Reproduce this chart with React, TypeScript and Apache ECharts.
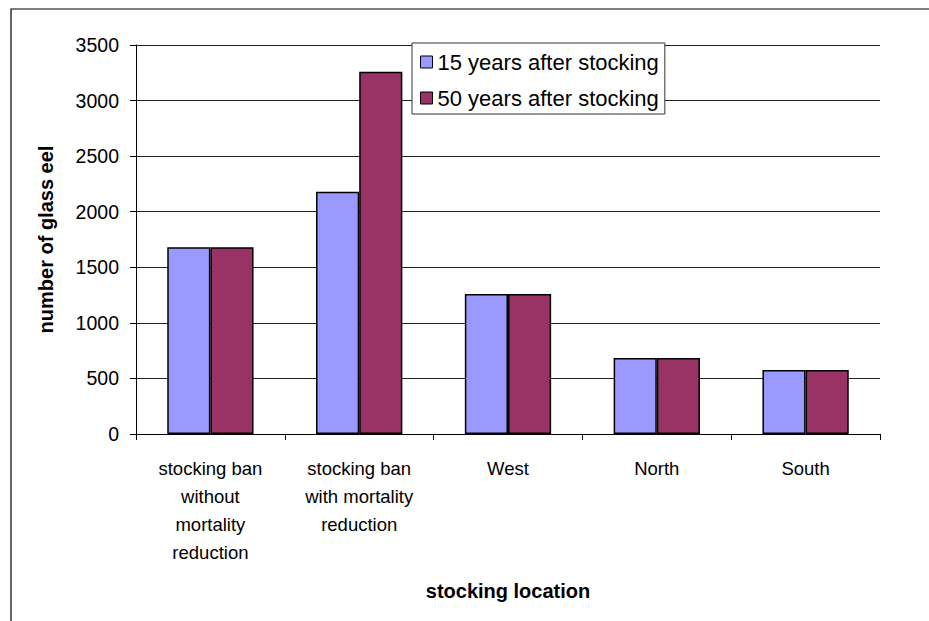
import React, { useEffect, useRef } from "react";
import * as echarts from "echarts";

const categories = [
  "stocking ban\nwithout\nmortality\nreduction",
  "stocking ban\nwith mortality\nreduction",
  "West",
  "North",
  "South",
];
const seriesNames = ["15 years after stocking", "50 years after stocking"];
const years15 = [1680, 2180, 1260, 684, 576];
const years50 = [1680, 3260, 1260, 684, 576];
const yTicks = { min: 0, max: 3500, interval: 500 };

const FONT = "'Liberation Sans', Arial, Helvetica, sans-serif";

export default function App() {
  const ref = useRef<HTMLDivElement>(null);
  useEffect(() => {
    if (!ref.current) return;
    const chart = echarts.init(ref.current, undefined, { renderer: "svg" });
    chart.setOption({
      animation: false,
      backgroundColor: "#ffffff",
      graphic: [
        {
          type: "rect",
          shape: { x: 11, y: 9, width: 1000, height: 700 },
          style: { fill: "none", stroke: "#000", lineWidth: 1.2 },
          silent: true,
          z: -1,
        },
      ],
      grid: { left: 136, right: 49, top: 45, bottom: 187, containLabel: false },
      legend: {
        orient: "vertical",
        left: 412,
        top: 43,
        icon: "rect",
        itemWidth: 12,
        itemHeight: 12,
        itemGap: 12,
        padding: [7, 6, 4, 8],
        backgroundColor: "#ffffff",
        borderColor: "#333",
        borderWidth: 1,
        itemStyle: { borderColor: "#000", borderWidth: 1 },
        textStyle: { fontFamily: FONT, fontSize: 22, color: "#000", lineHeight: 24 },
        data: seriesNames,
      },
      xAxis: {
        type: "category",
        data: categories,
        name: "stocking location",
        nameLocation: "middle",
        nameGap: 147,
        nameTextStyle: { fontFamily: FONT, fontSize: 20, fontWeight: "bold", color: "#000" },
        axisLine: { show: true, lineStyle: { color: "#000", width: 1 } },
        axisTick: { show: true, alignWithLabel: false, length: 6, lineStyle: { color: "#000" } },
        axisLabel: {
          interval: 0,
          margin: 20,
          fontFamily: FONT,
          fontSize: 18.5,
          lineHeight: 28,
          color: "#000",
          align: "center",
        },
        splitLine: { show: false },
      },
      yAxis: {
        type: "value",
        min: yTicks.min,
        max: yTicks.max,
        interval: yTicks.interval,
        name: "number of glass eel",
        nameLocation: "middle",
        nameGap: 80,
        nameRotate: 90,
        nameTextStyle: { fontFamily: FONT, fontSize: 20, fontWeight: "bold", color: "#000" },
        axisLine: { show: true, lineStyle: { color: "#000", width: 1 } },
        axisTick: { show: true, length: 6, lineStyle: { color: "#000" } },
        axisLabel: {
          margin: 17,
          fontFamily: FONT,
          fontSize: 19.5,
          color: "#000",
          formatter: (v: number) => String(v),
        },
        splitLine: { show: true, lineStyle: { color: "#222", width: 1 } },
      },
      series: [
        {
          name: seriesNames[0],
          type: "bar",
          data: years15,
          barGap: "0%",
          barCategoryGap: "42%",
          itemStyle: { color: "#9999FF", borderColor: "#000", borderWidth: 1.5 },
        },
        {
          name: seriesNames[1],
          type: "bar",
          data: years50,
          barGap: "0%",
          barCategoryGap: "42%",
          itemStyle: { color: "#993366", borderColor: "#000", borderWidth: 1.5 },
        },
      ],
    });
    return () => chart.dispose();
  }, []);
  return (
    <div
      ref={ref}
      style={{ position: "fixed", left: 0, top: 0, width: 929, height: 621 }}
    />
  );
}
